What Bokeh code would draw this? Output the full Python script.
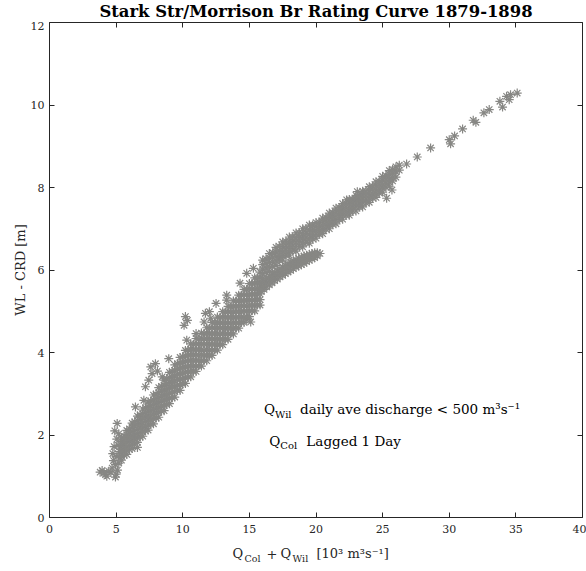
from bokeh.plotting import figure
from bokeh.layouts import column
from bokeh.models import Range1d, LinearAxis, Label, FixedTicker
from bokeh.embed import file_html
from bokeh.resources import INLINE

# Stark St / Morrison Bridge gauge, 1879-1898.
# Discharge Q_Col + Q_Wil in 10^3 m^3/s against water level above CRD in m.
# Dense parts of the cloud are listed column by column: {discharge: [levels]}.
low_flow = [
    (3.80, 1.10), (3.95, 1.14), (4.10, 1.08), (4.20, 1.04), (4.30, 1.00),
    (4.45, 1.12), (4.95, 0.98), (4.70, 1.20), (4.80, 1.38), (4.75, 1.55),
    (4.85, 1.72), (4.95, 1.28), (5.00, 1.48), (5.05, 1.90), (5.10, 1.15),
    (5.20, 1.32), (5.25, 1.60), (5.30, 1.45), (4.90, 2.10), (5.08, 2.28),
    (5.20, 2.03), (5.15, 1.75), (4.60, 1.10), (5.00, 1.05),
]

main_band = {
    5.4: [1.39, 1.48, 1.57, 1.66, 1.75, 1.84, 1.93],
    5.6: [1.51, 1.60, 1.69, 1.79, 1.88, 1.97],
    5.8: [1.53, 1.63, 1.72, 1.82, 1.92, 2.01, 2.11],
    6.0: [1.65, 1.75, 1.85, 1.95, 2.05, 2.15],
    6.2: [1.67, 1.77, 1.88, 1.98, 2.08, 2.19, 2.29],
    6.4: [1.80, 1.91, 2.01, 2.11, 2.22, 2.32],
    6.6: [1.82, 1.93, 2.03, 2.14, 2.25, 2.35, 2.46],
    6.8: [1.95, 2.06, 2.17, 2.27, 2.38, 2.49],
    7.0: [1.97, 2.08, 2.19, 2.30, 2.41, 2.52, 2.63],
    7.2: [2.10, 2.21, 2.33, 2.44, 2.55, 2.66],
    7.4: [2.12, 2.23, 2.35, 2.46, 2.57, 2.69, 2.80],
    7.6: [2.26, 2.37, 2.48, 2.60, 2.71, 2.82],
    7.8: [2.27, 2.39, 2.50, 2.62, 2.74, 2.85, 2.97],
    8.0: [2.41, 2.53, 2.64, 2.76, 2.88, 2.99],
    8.2: [2.43, 2.55, 2.67, 2.79, 2.91, 3.03, 3.15],
    8.4: [2.58, 2.70, 2.82, 2.94, 3.06, 3.18],
    8.6: [2.59, 2.71, 2.84, 2.96, 3.08, 3.21, 3.33],
    8.8: [2.74, 2.87, 2.99, 3.11, 3.24, 3.36],
    9.0: [2.76, 2.89, 3.01, 3.14, 3.27, 3.39, 3.52],
    9.2: [2.90, 3.03, 3.16, 3.28, 3.41, 3.54],
    9.4: [2.92, 3.05, 3.18, 3.31, 3.44, 3.57, 3.70],
    9.6: [3.08, 3.21, 3.34, 3.47, 3.60, 3.73],
    9.8: [3.08, 3.21, 3.35, 3.48, 3.61, 3.75, 3.88],
    10.0: [3.24, 3.37, 3.50, 3.64, 3.77, 3.90],
    10.2: [3.25, 3.38, 3.52, 3.65, 3.78, 3.92, 4.05],
    10.4: [3.40, 3.53, 3.66, 3.80, 3.93, 4.06],
    10.6: [3.41, 3.54, 3.68, 3.81, 3.94, 4.08, 4.21],
    10.8: [3.54, 3.67, 3.80, 3.94, 4.07, 4.20],
    11.0: [3.54, 3.67, 3.81, 3.94, 4.07, 4.21, 4.34],
    11.2: [3.67, 3.80, 3.93, 4.07, 4.20, 4.33],
    11.4: [3.67, 3.80, 3.94, 4.07, 4.20, 4.34, 4.47],
    11.6: [3.80, 3.93, 4.06, 4.20, 4.33, 4.46],
    11.8: [3.80, 3.93, 4.07, 4.20, 4.33, 4.47, 4.60],
    12.0: [3.93, 4.06, 4.19, 4.33, 4.46, 4.59],
    12.2: [3.93, 4.06, 4.20, 4.33, 4.46, 4.60, 4.73],
    12.4: [4.06, 4.19, 4.32, 4.46, 4.59, 4.72],
    12.6: [4.06, 4.19, 4.33, 4.46, 4.59, 4.73, 4.86],
    12.8: [4.19, 4.32, 4.45, 4.59, 4.72, 4.85],
    13.0: [4.19, 4.32, 4.46, 4.59, 4.72, 4.86, 4.99],
    13.2: [4.32, 4.45, 4.58, 4.72, 4.85, 4.98],
    13.4: [4.32, 4.45, 4.59, 4.72, 4.85, 4.99, 5.12],
    13.6: [4.45, 4.58, 4.71, 4.85, 4.98, 5.11],
    13.8: [4.45, 4.58, 4.72, 4.85, 4.98, 5.12, 5.25],
    14.0: [4.59, 4.72, 4.85, 4.99, 5.12, 5.25],
    14.2: [4.59, 4.72, 4.86, 4.99, 5.12, 5.26, 5.39],
    14.4: [4.73, 4.86, 4.99, 5.13, 5.26, 5.39],
    14.6: [4.73, 4.86, 5.00, 5.13, 5.26, 5.40, 5.53],
    14.8: [4.87, 5.00, 5.13, 5.27, 5.40, 5.53],
    15.0: [4.87, 5.00, 5.14, 5.27, 5.40, 5.54, 5.67],
    15.2: [5.01, 5.14, 5.27, 5.41, 5.54, 5.67],
    15.4: [5.01, 5.14, 5.28, 5.41, 5.54, 5.68, 5.81],
    15.6: [5.15, 5.28, 5.41, 5.55, 5.68, 5.81],
    15.8: [5.15, 5.28, 5.42, 5.55, 5.68, 5.82, 5.95],
}

upper_band = {
    16.00: [5.80, 5.91, 6.02, 6.13, 6.24],
    16.25: [5.94, 6.05, 6.16, 6.27],
    16.50: [5.96, 6.07, 6.18, 6.29, 6.40],
    16.75: [6.09, 6.20, 6.31, 6.42],
    17.00: [6.11, 6.22, 6.33, 6.44, 6.55],
    17.25: [6.24, 6.35, 6.46, 6.57],
    17.50: [6.24, 6.35, 6.46, 6.57, 6.68],
    17.75: [6.36, 6.47, 6.58, 6.69],
    18.00: [6.36, 6.47, 6.58, 6.69, 6.80],
    18.25: [6.47, 6.58, 6.69, 6.80],
    18.50: [6.46, 6.57, 6.68, 6.79, 6.90],
    18.75: [6.57, 6.68, 6.79, 6.90],
    19.00: [6.56, 6.67, 6.78, 6.89, 7.00],
    19.25: [6.67, 6.78, 6.89, 7.00],
    19.50: [6.65, 6.76, 6.87, 6.98, 7.09],
    19.75: [6.76, 6.87, 6.98, 7.09],
    20.00: [6.77, 6.87, 6.96, 7.06, 7.15],
    20.25: [6.87, 6.96, 7.06, 7.15],
    20.50: [6.88, 6.98, 7.07, 7.17, 7.26],
    20.75: [6.99, 7.08, 7.18, 7.27],
    21.00: [7.00, 7.10, 7.19, 7.29, 7.38],
    21.25: [7.11, 7.20, 7.30, 7.39],
    21.50: [7.12, 7.22, 7.31, 7.41, 7.50],
    21.75: [7.23, 7.32, 7.42, 7.51],
    22.00: [7.23, 7.33, 7.42, 7.52, 7.61],
    22.25: [7.33, 7.42, 7.52, 7.61],
    22.50: [7.33, 7.43, 7.52, 7.62, 7.71],
    22.75: [7.43, 7.52, 7.62, 7.71],
    23.00: [7.43, 7.53, 7.62, 7.72, 7.81],
    23.25: [7.53, 7.62, 7.72, 7.81],
    23.50: [7.53, 7.63, 7.72, 7.82, 7.91],
    23.75: [7.63, 7.72, 7.82, 7.91],
    24.00: [7.64, 7.74, 7.83, 7.93, 8.02],
    24.25: [7.75, 7.84, 7.94, 8.03],
    24.50: [7.76, 7.86, 7.95, 8.05, 8.14],
    24.75: [7.87, 7.96, 8.06, 8.15],
    25.00: [7.89, 7.99, 8.08, 8.18, 8.27],
    25.25: [8.01, 8.10, 8.20, 8.29],
    25.50: [8.03, 8.13, 8.22, 8.32, 8.41],
    25.75: [8.16, 8.25, 8.35, 8.44],
    26.00: [8.25, 8.38, 8.50],
    26.25: [8.42, 8.54],
}

lower_tongue = {
    15.9: [5.48, 5.58, 5.68], 16.1: [5.53, 5.63, 5.73], 16.3: [5.59, 5.69, 5.79],
    16.5: [5.64, 5.74, 5.84], 16.7: [5.69, 5.79, 5.89], 16.9: [5.74, 5.84, 5.94],
    17.1: [5.78, 5.88, 5.98], 17.3: [5.83, 5.93, 6.03], 17.5: [5.87, 5.97, 6.07],
    17.7: [5.91, 6.01, 6.11], 17.9: [5.95, 6.05, 6.15], 18.1: [5.99, 6.09, 6.19],
    18.3: [6.03, 6.13, 6.22], 18.5: [6.07, 6.16, 6.25], 18.7: [6.10, 6.19, 6.28],
    18.9: [6.13, 6.22, 6.31], 19.1: [6.16, 6.25, 6.34], 19.3: [6.20, 6.28, 6.36],
    19.5: [6.23, 6.31, 6.38], 19.7: [6.27, 6.34, 6.40], 19.9: [6.30, 6.37, 6.42],
    20.1: [6.34, 6.42], 20.3: [6.40],
}

scattered = [
    (6.45, 2.68), (7.08, 2.84), (7.20, 3.17), (7.45, 3.33), (7.60, 3.65),
    (7.70, 3.49), (7.95, 3.73), (8.10, 3.55), (8.46, 3.41), (8.95, 3.85),
    (10.10, 4.66), (10.20, 4.87), (10.30, 4.30), (10.35, 4.78), (11.00, 4.46),
    (11.60, 4.74), (11.70, 4.95), (12.00, 4.99), (12.10, 4.83), (12.50, 5.19),
    (13.30, 5.27), (13.30, 5.39), (14.30, 5.68), (14.80, 5.92), (15.30, 6.04),
    (14.80, 4.80), (15.10, 4.74), (6.60, 1.70),
    (22.30, 7.70), (23.00, 7.70), (23.10, 7.90), (23.60, 7.86), (25.30, 7.74),
    (25.70, 7.94),
]

high_flow = [
    (26.8, 8.57), (27.6, 8.74), (28.6, 8.96), (30.0, 9.16), (30.1, 9.06),
    (30.4, 9.25), (31.0, 9.42), (31.8, 9.63), (32.0, 9.58), (32.6, 9.81),
    (33.0, 9.89), (33.8, 10.09), (34.0, 9.95), (34.3, 10.21), (34.5, 10.13),
    (34.6, 10.25), (35.1, 10.29),
]

x_ticks = [0, 5, 10, 15, 20, 25, 30, 35, 40]
y_ticks = [0, 2, 4, 6, 8, 10, 12]

q_total, wl_crd = [], []
for pairs in (low_flow, scattered, high_flow):
    for q, h in pairs:
        q_total.append(q)
        wl_crd.append(h)
for cols in (main_band, upper_band, lower_tongue):
    for q, levels in cols.items():
        for h in levels:
            q_total.append(q)
            wl_crd.append(h)

SERIF = "DejaVu Serif"
INK = "#262626"
MARKER = "#878784"
W = 586
LEFT, RIGHT = 49, 582           # frame edges, shared by all three panels
TOP_H, BOT_H = 21, 26
MAIN_H = 571 - TOP_H - BOT_H


def strip(height):
    # text-only panel; x in page pixels, y in pixels from the panel top
    f = figure(width=W, height=height, x_range=Range1d(LEFT, RIGHT),
               y_range=Range1d(height, 0), output_backend="svg",
               toolbar_location=None, min_border=0,
               min_border_left=LEFT, min_border_right=W - RIGHT,
               x_axis_type=None, y_axis_type=None)
    f.outline_line_color = None
    f.background_fill_color = "white"
    f.border_fill_color = "white"
    return f


def put(f, text, x, mid, size, color="#000000", style="normal", align="left"):
    f.add_layout(Label(x=x, y=mid, text=text, text_font=SERIF,
                       text_font_size=f"{size}px", text_font_style=style,
                       text_color=color, text_align=align,
                       text_baseline="middle"))


# title strip
head = strip(TOP_H)
put(head, "Stark Str/Morrison Br Rating Curve 1879-1898", 315.5, 11, 16.4,
    style="bold", align="center")

# main axes
p = figure(width=W, height=MAIN_H, x_range=Range1d(0, 40), y_range=Range1d(0, 12),
           output_backend="svg", toolbar_location=None,
           min_border_left=LEFT, min_border_right=W - RIGHT, min_border_top=1,
           min_border_bottom=MAIN_H - 1 - 495)
p.grid.visible = False
p.outline_line_color = None
p.background_fill_color = "white"
p.border_fill_color = "white"

p.scatter(q_total, wl_crd, marker="asterisk", size=9,
          line_color=MARKER, line_width=1.2)

# box axes with inward ticks on all four sides
p.add_layout(LinearAxis(), "above")
p.add_layout(LinearAxis(), "right")
for ax in p.xaxis:
    ax.ticker = FixedTicker(ticks=x_ticks)
for ax in p.yaxis:
    ax.ticker = FixedTicker(ticks=y_ticks)
for ax in p.axis:
    ax.major_tick_in = 5
    ax.major_tick_out = 0
    ax.minor_tick_line_color = None
    ax.major_tick_line_color = INK
    ax.axis_line_color = INK
    ax.axis_line_width = 1
    ax.major_label_text_font = SERIF
    ax.major_label_text_font_size = "11px"
    ax.major_label_text_color = INK

for ax in (p.above[0], p.right[0]):
    ax.major_label_text_color = None
    ax.major_label_text_font_size = "0px"
    ax.major_label_standoff = 0

p.below[0].major_label_standoff = 7
p.left[0].major_label_standoff = 5
p.left[0].axis_label = "WL - CRD [m]"
p.left[0].axis_label_text_font = SERIF
p.left[0].axis_label_text_font_size = "13px"
p.left[0].axis_label_text_font_style = "normal"
p.left[0].axis_label_text_color = INK
p.left[0].axis_label_standoff = 0


# annotations inside the axes, anchored in data units
def note(text, q, h, size, dx=0, dy=0):
    p.add_layout(Label(x=q, y=h, x_offset=dx, y_offset=dy, text=text,
                       text_font=SERIF, text_font_size=f"{size}px",
                       text_color="#000000", text_baseline="middle"))


note("Q", 16.1, 2.63, 13.5)
note("Wil", 16.1, 2.63, 10, dx=11, dy=-5)
note("daily ave discharge < 500 m³s⁻¹", 16.1, 2.63, 13.5, dx=36)
note("Q", 16.5, 1.86, 13.5)
note("Col", 16.5, 1.86, 10, dx=11, dy=-5)
note("Lagged 1 Day", 16.5, 1.86, 13.5, dx=37)

# x axis label strip with subscripts
foot = strip(BOT_H)
put(foot, "Q", 232, 8, 13, INK)
put(foot, "Col", 244, 13, 9.5, INK)
put(foot, "+", 266, 8, 13, INK)
put(foot, "Q", 280, 8, 13, INK)
put(foot, "Wil", 292, 13, 9.5, INK)
put(foot, "[10³ m³s⁻¹]", 316, 8, 13, INK)

page = column(head, p, foot, spacing=0)
open("out.html", "w").write(file_html(page, INLINE))
